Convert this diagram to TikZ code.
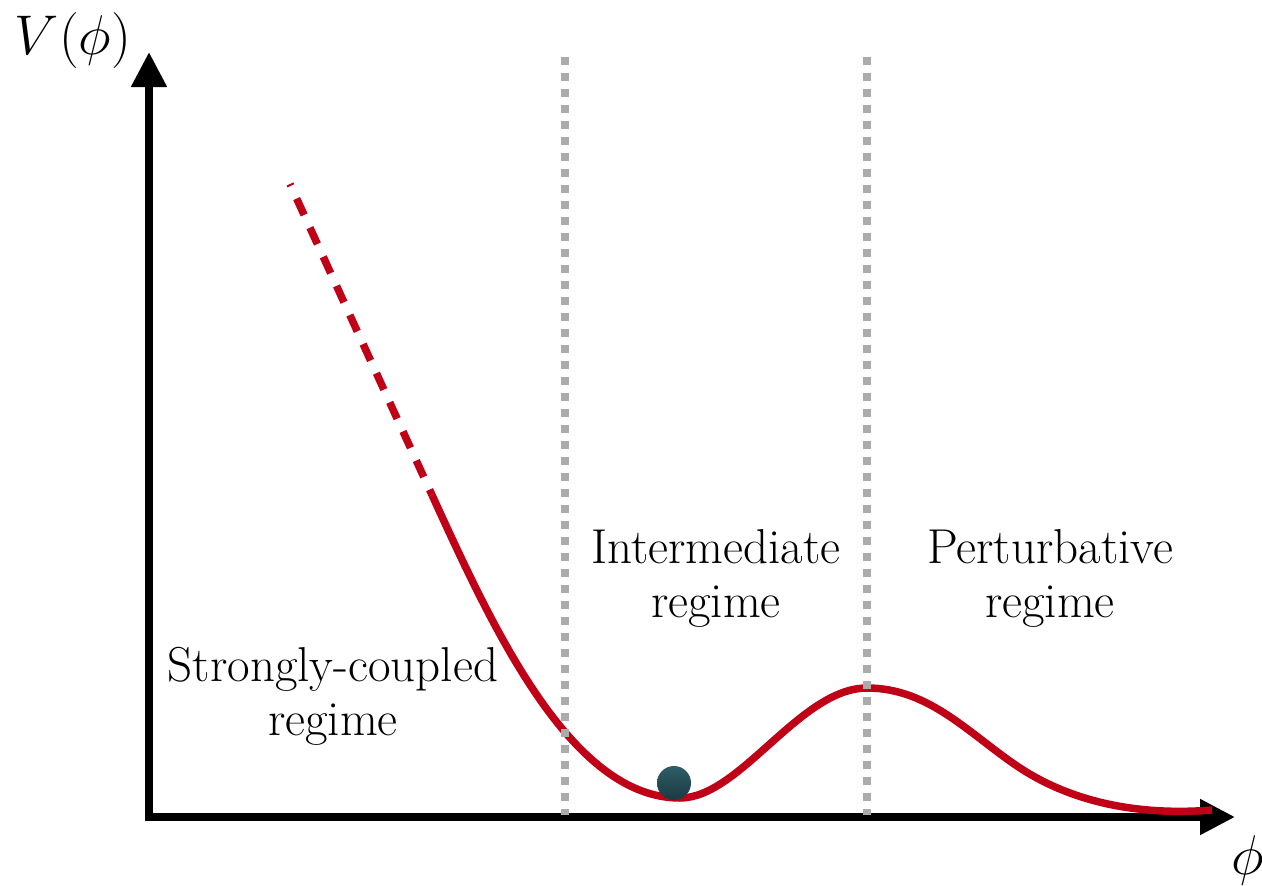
\documentclass[tikz,border=0pt]{standalone}
\usepackage{graphicx}
\usetikzlibrary{arrows.meta}
\definecolor{curvered}{HTML}{C00016}
\definecolor{dotgray}{HTML}{ABABAB}
\definecolor{balltop}{HTML}{2F5D67}
\definecolor{ballbot}{HTML}{1B3A42}
\newcommand{\biglabel}[1]{\scalebox{2.25}{\fontsize{24.88}{30}\selectfont$#1$}}
\begin{document}
\begin{tikzpicture}[x=1pt,y=-1pt,
  axis/.style={line width=8pt, line join=miter,
    {Triangle[length=35pt,width=34pt]}-{Triangle[length=35pt,width=34pt]}},
  pot/.style={curvered, line width=7.5pt},
  potdash/.style={pot, dash pattern=on 18pt off 14pt, dash phase=16pt},
  regimesep/.style={dotgray, line width=8pt, dash pattern=on 8pt off 8pt},
  regimelabel/.style={font=\fontsize{49}{54}\selectfont, align=center, inner sep=0pt},
  axislabel/.style={inner sep=0pt},
  ball/.style={circle, minimum size=34pt, inner sep=0pt, top color=balltop, bottom color=ballbot}]
\useasboundingbox (0,0) rectangle (1262,886);
% axes
\coordinate (O) at (149,817);
\coordinate (Ytip) at (149,52);
\coordinate (Xtip) at (1235,817);
\draw[axis] (Ytip) -- (O) -- (Xtip);
% potential curve
\coordinate (c0) at (290,184);
\coordinate (c1) at (432,495);
\coordinate (cmin) at (680,798);
\coordinate (cmax) at (867,688);
\coordinate (cmid) at (1020,768);
\coordinate (cend) at (1212,810);
\draw[potdash] (c0) -- (c1);
\draw[pot] (c1) .. controls (492,626) and (570,798) .. (cmin)
  .. controls (740,798) and (800,688) .. (cmax)
  .. controls (930,688) and (970,735) .. (cmid)
  .. controls (1080,807) and (1150,815) .. (cend);
% regime separators
\coordinate (s1top) at (565,57);
\coordinate (s1bot) at (565,815);
\coordinate (s2top) at (867,57);
\coordinate (s2bot) at (867,815);
\draw[regimesep] (s1top) -- (s1bot);
\draw[regimesep] (s2top) -- (s2bot);
% ball
\node[ball] (field) at (674,783) {};
% labels
\node[axislabel] (vlabel) at (73,41) {\biglabel{V(\phi)}};
\node[axislabel, anchor=base west] (philabel) at (1231,874) {\biglabel{\phi}};
\node[regimelabel] (strong) at (333,696) {Strongly-coupled\\regime};
\node[regimelabel] (inter) at (716,578) {Intermediate\\regime};
\node[regimelabel] (pert) at (1050,578) {Perturbative\\regime};
\end{tikzpicture}
\end{document}
